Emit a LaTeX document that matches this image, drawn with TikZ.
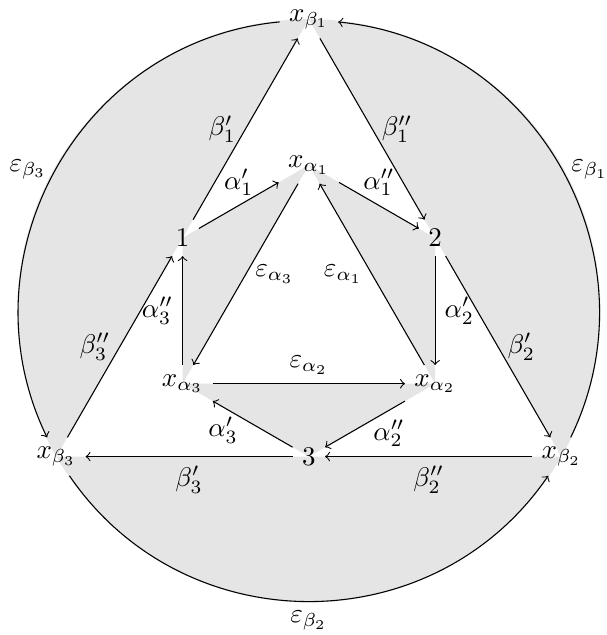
\documentclass[tikz,border=0pt]{standalone}
\usepackage{amsmath,amssymb}
\usetikzlibrary{backgrounds}
\definecolor{Cface}{gray}{0.9}
\tikzset{
    qvert/.style={inner sep=0.333em},
    qarr/.style={->, line width=0.4pt, black},
    qface/.style={fill=Cface, draw=none},
}

\begin{document}
\begin{tikzpicture}
    \useasboundingbox (-4.025,-4.225) rectangle (3.885,4.05);

    % ── vertices on the circle ─────────────────────────────
    \node [qvert] (b1) at (90:3.8)  {$x_{\beta_1}$};
    \node [qvert] (b2) at (-30:3.8) {$x_{\beta_2}$};
    \node [qvert] (b3) at (210:3.8) {$x_{\beta_3}$};

    % ── inner hexagon ──────────────────────────────────────
    \node [qvert] (n1) at (150:1.9) {$1$};
    \node [qvert] (n2) at (30:1.9)  {$2$};
    \node [qvert] (n3) at (270:1.9) {$3$};
    \node [qvert] (a1) at (90:1.9)  {$x_{\alpha_1}$};
    \node [qvert] (a2) at (-30:1.9) {$x_{\alpha_2}$};
    \node [qvert] (a3) at (210:1.9) {$x_{\alpha_3}$};

    % ── shaded faces ───────────────────────────────────────
    \begin{scope}[on background layer]
        \fill [qface] (b1.center) arc[start angle=90, end angle=210, radius=3.8]
              -- (n1.center) -- cycle;
        \fill [qface] (b3.center) arc[start angle=210, end angle=330, radius=3.8]
              -- (n3.center) -- cycle;
        \fill [qface] (b2.center) arc[start angle=-30, end angle=90, radius=3.8]
              -- (n2.center) -- cycle;
        \fill [qface] (n1.center) -- (a1.center) -- (a3.center) -- cycle;
        \fill [qface] (n2.center) -- (a1.center) -- (a2.center) -- cycle;
        \fill [qface] (n3.center) -- (a3.center) -- (a2.center) -- cycle;
    \end{scope}

    % ── arcs of the circle ─────────────────────────────────
    \draw [qarr] (b1) to[out=185.4, in=115.9, looseness=1.077]
        node[midway, left] {$\varepsilon_{\beta_3}$} (b3);
    \draw [qarr] (b3) to[out=304.4, in=235.6, looseness=1.088]
        node[midway, below] {$\varepsilon_{\beta_2}$} (b2);
    \draw [qarr] (b2) to[out=64.1, in=354.6, looseness=1.077]
        node[midway, right] {$\varepsilon_{\beta_1}$} (b1);

    % ── outer triangle ─────────────────────────────────────
    \draw [qarr] (n1) -- node[midway, left]  {$\beta'_1$}  (b1);
    \draw [qarr] (b1) -- node[midway, right] {$\beta''_1$} (n2);
    \draw [qarr] (n2) -- node[midway, right] {$\beta'_2$}  (b2);
    \draw [qarr] (b2) -- node[midway, below] {$\beta''_2$} (n3);
    \draw [qarr] (n3) -- node[midway, below] {$\beta'_3$}  (b3);
    \draw [qarr] (b3) -- node[midway, left]  {$\beta''_3$} (n1);

    % ── hexagon ────────────────────────────────────────────
    \draw [qarr] (n1) -- node[midway, above] {$\alpha'_1$}  (a1);
    \draw [qarr] (a1) -- node[midway, above] {$\alpha''_1$} (n2);
    \draw [qarr] (n2) -- node[midway, right] {$\alpha'_2$}  (a2);
    \draw [qarr] (a2) -- node[pos=0.2, below] {$\alpha''_2$} (n3);
    \draw [qarr] (n3) -- node[pos=0.87, below] {$\alpha'_3$} (a3);
    \draw [qarr] (a3) -- node[midway, left]  {$\alpha''_3$} (n1);

    % ── inner triangle ─────────────────────────────────────
    \draw [qarr] (a1) -- node[midway, right] {$\varepsilon_{\alpha_3}$} (a3);
    \draw [qarr] (a3) -- node[midway, above] {$\varepsilon_{\alpha_2}$} (a2);
    \draw [qarr] (a2) -- node[midway, left]  {$\varepsilon_{\alpha_1}$} (a1);

\end{tikzpicture}
\end{document}
